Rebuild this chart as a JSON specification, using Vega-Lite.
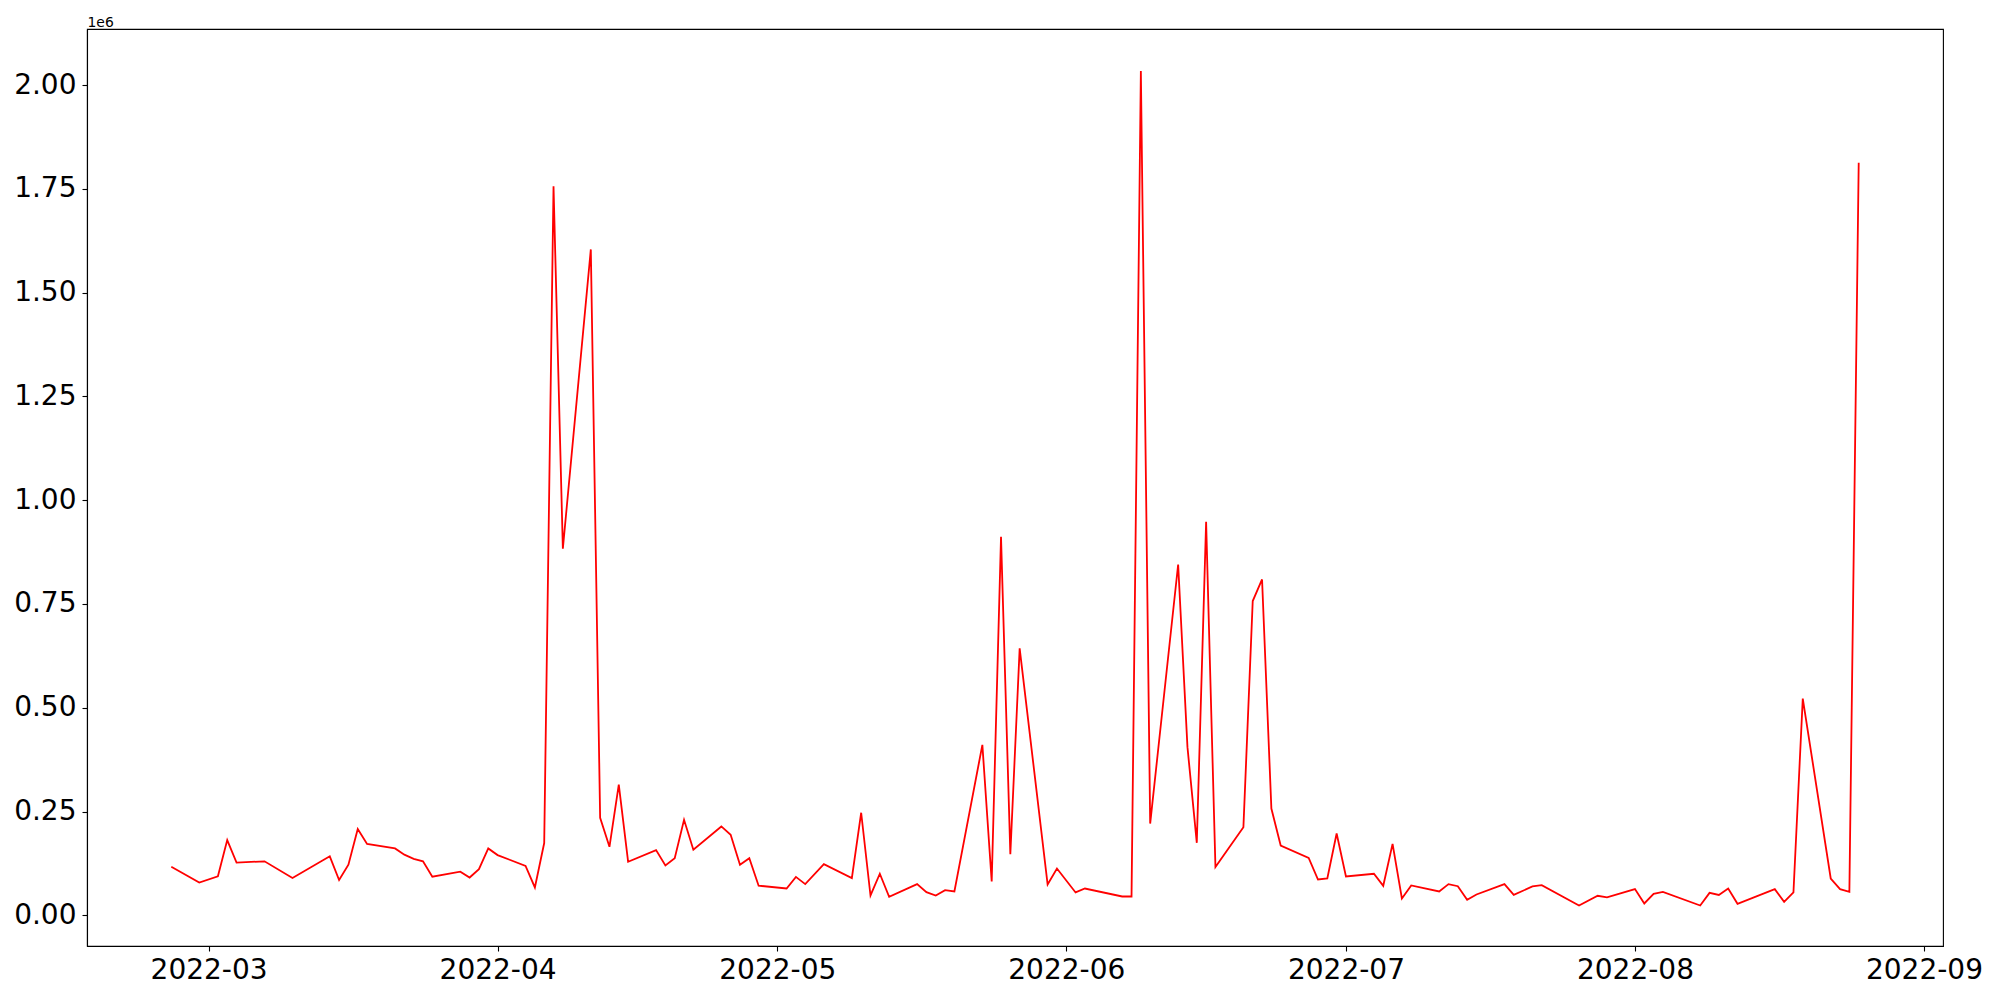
{
  "$schema": "https://vega.github.io/schema/vega-lite/v6.json",
  "width": 1856,
  "height": 917,
  "autosize": {"type": "none"},
  "padding": {"left": 87, "top": 29, "right": 57, "bottom": 54},
  "background": "white",
  "config": {
    "view": {"stroke": "black", "strokeWidth": 1.1},
    "font": "DejaVu Sans",
    "axis": {
      "grid": false,
      "domainColor": "black",
      "domainWidth": 1.1,
      "tickColor": "black",
      "tickWidth": 1.1,
      "tickSize": 5,
      "labelColor": "black",
      "labelFont": "DejaVu Sans",
      "labelFontSize": 28
    }
  },
  "data": {
    "values": [
      {"date": "2022-02-25", "value": 116800},
      {"date": "2022-02-28", "value": 79000},
      {"date": "2022-03-02", "value": 94000},
      {"date": "2022-03-03", "value": 181000},
      {"date": "2022-03-04", "value": 127000},
      {"date": "2022-03-07", "value": 130000},
      {"date": "2022-03-10", "value": 90000},
      {"date": "2022-03-14", "value": 142000},
      {"date": "2022-03-15", "value": 85000},
      {"date": "2022-03-16", "value": 122000},
      {"date": "2022-03-17", "value": 208000},
      {"date": "2022-03-18", "value": 172000},
      {"date": "2022-03-21", "value": 161000},
      {"date": "2022-03-22", "value": 146000},
      {"date": "2022-03-23", "value": 136000},
      {"date": "2022-03-24", "value": 130000},
      {"date": "2022-03-25", "value": 93000},
      {"date": "2022-03-28", "value": 105000},
      {"date": "2022-03-29", "value": 91000},
      {"date": "2022-03-30", "value": 111000},
      {"date": "2022-03-31", "value": 161000},
      {"date": "2022-04-01", "value": 145000},
      {"date": "2022-04-04", "value": 119000},
      {"date": "2022-04-05", "value": 67000},
      {"date": "2022-04-06", "value": 174000},
      {"date": "2022-04-07", "value": 1756000},
      {"date": "2022-04-08", "value": 883000},
      {"date": "2022-04-11", "value": 1604000},
      {"date": "2022-04-12", "value": 234600},
      {"date": "2022-04-13", "value": 165000},
      {"date": "2022-04-14", "value": 314600},
      {"date": "2022-04-15", "value": 129000},
      {"date": "2022-04-18", "value": 157000},
      {"date": "2022-04-19", "value": 120000},
      {"date": "2022-04-20", "value": 137500},
      {"date": "2022-04-21", "value": 230000},
      {"date": "2022-04-22", "value": 158000},
      {"date": "2022-04-25", "value": 214000},
      {"date": "2022-04-26", "value": 194000},
      {"date": "2022-04-27", "value": 121600},
      {"date": "2022-04-28", "value": 137500},
      {"date": "2022-04-29", "value": 71300},
      {"date": "2022-05-02", "value": 64500},
      {"date": "2022-05-03", "value": 92500},
      {"date": "2022-05-04", "value": 75000},
      {"date": "2022-05-06", "value": 123000},
      {"date": "2022-05-09", "value": 89400},
      {"date": "2022-05-10", "value": 247000},
      {"date": "2022-05-11", "value": 47700},
      {"date": "2022-05-12", "value": 100000},
      {"date": "2022-05-13", "value": 44500},
      {"date": "2022-05-16", "value": 75000},
      {"date": "2022-05-17", "value": 55700},
      {"date": "2022-05-18", "value": 47700},
      {"date": "2022-05-19", "value": 60500},
      {"date": "2022-05-20", "value": 57300},
      {"date": "2022-05-23", "value": 410600},
      {"date": "2022-05-24", "value": 81400},
      {"date": "2022-05-25", "value": 911600},
      {"date": "2022-05-26", "value": 147000},
      {"date": "2022-05-27", "value": 643000},
      {"date": "2022-05-30", "value": 74000},
      {"date": "2022-05-31", "value": 112700},
      {"date": "2022-06-02", "value": 55000},
      {"date": "2022-06-03", "value": 64500},
      {"date": "2022-06-07", "value": 45300},
      {"date": "2022-06-08", "value": 45300},
      {"date": "2022-06-09", "value": 2034000},
      {"date": "2022-06-10", "value": 221000},
      {"date": "2022-06-13", "value": 845000},
      {"date": "2022-06-14", "value": 405000},
      {"date": "2022-06-15", "value": 174600},
      {"date": "2022-06-16", "value": 948000},
      {"date": "2022-06-17", "value": 116000},
      {"date": "2022-06-20", "value": 212000},
      {"date": "2022-06-21", "value": 757000},
      {"date": "2022-06-22", "value": 809000},
      {"date": "2022-06-23", "value": 257000},
      {"date": "2022-06-24", "value": 168000},
      {"date": "2022-06-27", "value": 138400},
      {"date": "2022-06-28", "value": 86200},
      {"date": "2022-06-29", "value": 88600},
      {"date": "2022-06-30", "value": 197000},
      {"date": "2022-07-01", "value": 93400},
      {"date": "2022-07-04", "value": 100000},
      {"date": "2022-07-05", "value": 71000},
      {"date": "2022-07-06", "value": 172000},
      {"date": "2022-07-07", "value": 40500},
      {"date": "2022-07-08", "value": 71800},
      {"date": "2022-07-11", "value": 57300},
      {"date": "2022-07-12", "value": 75000},
      {"date": "2022-07-13", "value": 70000},
      {"date": "2022-07-14", "value": 37300},
      {"date": "2022-07-15", "value": 50000},
      {"date": "2022-07-18", "value": 75000},
      {"date": "2022-07-19", "value": 49000},
      {"date": "2022-07-21", "value": 69400},
      {"date": "2022-07-22", "value": 72500},
      {"date": "2022-07-26", "value": 23600},
      {"date": "2022-07-28", "value": 47000},
      {"date": "2022-07-29", "value": 43000},
      {"date": "2022-08-01", "value": 63000},
      {"date": "2022-08-02", "value": 28400},
      {"date": "2022-08-03", "value": 51700},
      {"date": "2022-08-04", "value": 56500},
      {"date": "2022-08-08", "value": 23600},
      {"date": "2022-08-09", "value": 54000},
      {"date": "2022-08-10", "value": 49000},
      {"date": "2022-08-11", "value": 64500},
      {"date": "2022-08-12", "value": 27600},
      {"date": "2022-08-16", "value": 63000},
      {"date": "2022-08-17", "value": 32500},
      {"date": "2022-08-18", "value": 55000},
      {"date": "2022-08-19", "value": 522000},
      {"date": "2022-08-22", "value": 88600},
      {"date": "2022-08-23", "value": 63000},
      {"date": "2022-08-24", "value": 56500},
      {"date": "2022-08-25", "value": 1813000}
    ]
  },
  "mark": {"type": "line", "color": "red", "strokeWidth": 1.8, "clip": true},
  "encoding": {
    "x": {
      "field": "date",
      "type": "temporal",
      "scale": {
        "type": "utc",
        "domain": [
          {"year": 2022, "month": 2, "date": 15, "hours": 23, "utc": true},
          {"year": 2022, "month": 9, "date": 3, "hours": 1, "utc": true}
        ]
      },
      "axis": {
        "title": null,
        "values": [
          {"year": 2022, "month": 3, "date": 1, "utc": true},
          {"year": 2022, "month": 4, "date": 1, "utc": true},
          {"year": 2022, "month": 5, "date": 1, "utc": true},
          {"year": 2022, "month": 6, "date": 1, "utc": true},
          {"year": 2022, "month": 7, "date": 1, "utc": true},
          {"year": 2022, "month": 8, "date": 1, "utc": true},
          {"year": 2022, "month": 9, "date": 1, "utc": true}
        ],
        "labelExpr": "utcFormat(datum.value, '%Y-%m')",
        "labelPadding": 5,
        "labelFlush": false,
        "labelOverlap": false
      }
    },
    "y": {
      "field": "value",
      "type": "quantitative",
      "scale": {"domain": [-74000, 2135000], "nice": false, "zero": false},
      "axis": {
        "values": [0, 250000, 500000, 750000, 1000000, 1250000, 1500000, 1750000, 2000000],
        "labelExpr": "format(datum.value / 1000000, '.2f')",
        "labelPadding": 6,
        "labelFlush": false,
        "labelOverlap": false,
        "title": "1e6",
        "titleAngle": 0,
        "titleX": 0,
        "titleY": -3,
        "titleAlign": "left",
        "titleBaseline": "alphabetic",
        "titleFontSize": 13.9,
        "titleFontWeight": "normal",
        "titleFont": "DejaVu Sans",
        "titleColor": "black"
      }
    }
  }
}
